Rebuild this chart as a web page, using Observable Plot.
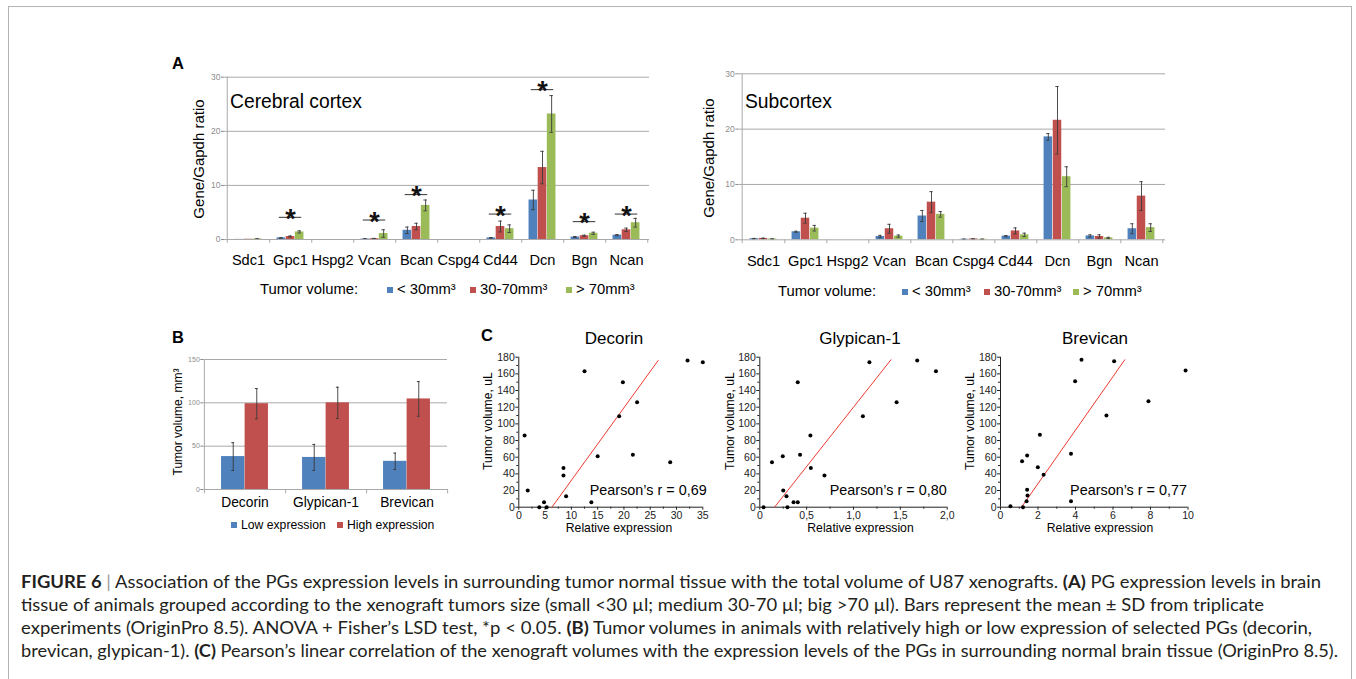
<!DOCTYPE html>
<html><head><meta charset="utf-8">
<script src="https://cdn.jsdelivr.net/npm/d3@7"></script>
<script src="https://cdn.jsdelivr.net/npm/@observablehq/plot@0.6"></script>
<style>
html,body{margin:0;padding:0;background:#fff;}
#fig{position:relative;width:1356px;height:679px;overflow:hidden;font-family:"Liberation Sans",Arial,Helvetica,sans-serif;color:#000;}
.abs{position:absolute;white-space:nowrap;line-height:1;}
#frame{position:absolute;left:8px;top:6px;width:1344px;height:720px;border:1.5px solid #b4b4b4;box-sizing:border-box;}
.cap{font-family:Lato,Roboto,"Liberation Sans",Arial,sans-serif;font-weight:400;color:#231f20;transform-origin:0 50%;}
.cap b{font-weight:700;}
.sw{display:inline-block;width:6px;height:6px;margin-right:4px;vertical-align:1px;}
</style></head>
<body><div id="fig"><div id="frame"></div></div>
<script>
// ---------- DATA ----------
const genes = ["Sdc1","Gpc1","Hspg2","Vcan","Bcan","Cspg4","Cd44","Dcn","Bgn","Ncan"];
const volumeGroups = ["< 30mm³","30-70mm³","> 70mm³"];
const groupColors = ["#4f81bd","#c0504d","#9bbb59"];
const geneAxisTicks = [0,10,20,30];

// Cerebral cortex (mean, SD)
const cortexSmall    = [0.02,0.3,0,0.1,1.7,0,0.3,7.3,0.45,0.8];
const cortexSmallSD  = [0,0.05,0,0.05,0.6,0,0.05,1.8,0.1,0.1];
const cortexMedium   = [0.05,0.55,0,0.15,2.4,0,2.4,13.3,0.7,1.8];
const cortexMediumSD = [0,0.1,0,0.05,0.6,0,1.0,3.0,0.1,0.3];
const cortexLarge    = [0.1,1.4,0,1.1,6.3,0,2.0,23.2,1.15,3.1];
const cortexLargeSD  = [0.05,0.2,0,0.7,1.0,0,0.7,3.4,0.2,0.8];
const cortexSigGenes = ["Gpc1","Vcan","Bcan","Cd44","Dcn","Bgn","Ncan"];
const cortexSigLevel = [4.1,3.6,8.3,4.7,27.7,3.3,4.7];

// Subcortex (mean, SD)
const subSmall    = [0.2,1.45,0,0.6,4.3,0.1,0.66,18.6,0.7,2.0];
const subSmallSD  = [0.05,0.1,0,0.2,1.0,0.02,0.1,0.6,0.2,0.9];
const subMedium   = [0.25,3.9,0,2.0,6.8,0.15,1.6,21.6,0.6,7.9];
const subMediumSD = [0.05,0.9,0,0.8,1.9,0.03,0.55,6.1,0.3,2.6];
const subLarge    = [0.15,2.1,0,0.66,4.6,0.1,0.9,11.4,0.35,2.2];
const subLargeSD  = [0.03,0.5,0,0.2,0.5,0.02,0.3,1.8,0.1,0.7];

// Panel B
const bCategories = ["Decorin","Glypican-1","Brevican"];
const bGroups = ["Low expression","High expression"];
const bColors = ["#4f81bd","#c0504d"];
const lowMean  = [38,37,32.5];
const lowSD    = [16,15,9.5];
const highMean = [99,100,104.5];
const highSD   = [17.5,18,20];
const bAxisTicks = [0,50,100,150];

// Panel C
const volTicks = [0,20,40,60,80,100,120,140,160,180];
const decorinExpr = [1.1,1.7,3.9,4.8,5.3,8.5,8.5,9.0,12.5,13.8,15.0,19.1,19.8,21.7,22.5,28.8,32.1,35.0];
const decorinVol  = [86,20,0,6,0,47,38,13,163,6,61,109,150,63,126,54,176,174];
const decorinFitX = [6.3,26.5];
const decorinFitY = [0,176];
const decorinTicks = [0,5,10,15,20,25,30,35];
const glypicanExpr = [0.04,0.13,0.245,0.25,0.285,0.295,0.36,0.405,0.405,0.43,0.54,0.545,0.69,1.10,1.17,1.46,1.68,1.88];
const glypicanVol  = [0,54,61,20,13,0,6,6,150,63,86,47,38,109,174,126,176,163];
const glypicanFitX = [0.157,1.40];
const glypicanFitY = [0,177];
const glypicanTicks = [0,0.5,1.0,1.5,2.0];
const brevicanExpr = [0.53,1.15,1.2,1.42,1.42,1.44,1.39,1.99,2.1,2.3,3.76,3.76,3.98,4.32,5.65,6.06,7.89,9.87];
const brevicanVol  = [1,55,0,62,21,14,7,48,87,39,64,7,151,177,110,175,127,164];
const brevicanFitX = [1.12,6.63];
const brevicanFitY = [0,177];
const brevicanTicks = [0,2,4,6,8,10];
const pearson = ["Pearson’s r = 0,69","Pearson’s r = 0,80","Pearson’s r = 0,77"];

const captionLines = [
  '<b>FIGURE 6</b> <span style="color:#9a9a9a">|</span> Association of the PGs expression levels in surrounding tumor normal tissue with the total volume of U87 xenografts. <b>(A)</b> PG expression levels in brain',
  'tissue of animals grouped according to the xenograft tumors size (small &lt;30 µl; medium 30-70 µl; big &gt;70 µl). Bars represent the mean ± SD from triplicate',
  'experiments (OriginPro 8.5). ANOVA + Fisher’s LSD test, *p &lt; 0.05. <b>(B)</b> Tumor volumes in animals with relatively high or low expression of selected PGs (decorin,',
  'brevican, glypican-1). <b>(C)</b> Pearson’s linear correlation of the xenograft volumes with the expression levels of the PGs in surrounding normal brain tissue (OriginPro 8.5).'
];

// ---------- HELPERS ----------
const FONT = '"Liberation Sans", Arial, Helvetica, sans-serif';
const fig = document.getElementById("fig");
const baseStyle = {background: "transparent", fontFamily: FONT, overflow: "visible", color: "#000"};
function place(node, left, top) {
  const d = document.createElement("div");
  d.style.cssText = `position:absolute;left:${left}px;top:${top}px;`;
  d.appendChild(node); fig.appendChild(d); return d;
}
function label(html, x, cy, fs, {anchor = "start", weight = "normal", color = "#000", rotate = false, cls = ""} = {}) {
  const d = document.createElement("div");
  d.className = "abs " + cls;
  d.innerHTML = html;
  d.style.fontSize = fs + "px";
  if (!cls) { d.style.fontWeight = weight; d.style.color = color; }
  d.style.left = x + "px";
  if (rotate) { d.style.top = cy + "px"; d.style.transform = "translate(-50%,-50%) rotate(-90deg)"; }
  else {
    d.style.top = (cy - fs / 2) + "px";
    if (anchor === "middle") d.style.transform = "translateX(-50%)";
    if (anchor === "end") d.style.transform = "translateX(-100%)";
  }
  fig.appendChild(d); return d;
}
function swatchLegend(items, colors, xs, cy, fs) {
  items.forEach((t, i) => label(`<span class="sw" style="background:${colors[i]}"></span>${t}`, xs[i], cy, fs));
}

// ---------- PANEL A ----------
function groupedBars({left, top, width, height, mL, mR, mT, mB, means, sds, sigGenes, sigLevels}) {
  const bw = (width - mL - mR) / genes.length;
  const barW = bw * 0.215;
  const g0 = (bw - 3 * barW) / 2;
  const grey = "#a9a9a9", err = "#3a3a3a";
  const marks = [Plot.ruleY([10, 20, 30], {stroke: grey})];
  means.forEach((vals, s) => {
    const rows = genes.map((g, i) => ({gene: g, v: vals[i], sd: sds[s][i]}));
    const a = g0 + s * barW, c = a + barW / 2;
    marks.push(Plot.barY(rows, {x: "gene", y: "v", fill: groupColors[s], insetLeft: a, insetRight: bw - a - barW}));
    const er = rows.filter(d => d.sd > 0);
    marks.push(Plot.ruleX(er, {x: "gene", y1: d => Math.max(0, d.v - d.sd), y2: d => d.v + d.sd, dx: c - bw / 2, stroke: err, strokeWidth: 0.9}));
    marks.push(Plot.tickY(er, {x: "gene", y: d => d.v + d.sd, insetLeft: c - 2, insetRight: bw - c - 2, stroke: err, strokeWidth: 0.9}));
    marks.push(Plot.tickY(er, {x: "gene", y: d => Math.max(0, d.v - d.sd), insetLeft: c - 2, insetRight: bw - c - 2, stroke: err, strokeWidth: 0.9}));
  });
  marks.push(Plot.ruleY([0], {stroke: grey}));
  marks.push(Plot.ruleX([genes[0]], {y1: -0.7, y2: 30, dx: -bw / 2, stroke: grey}));
  marks.push(Plot.ruleX(genes, {y1: -0.7, y2: 0, dx: bw / 2, stroke: grey}));
  if (sigGenes) {
    const sig = sigGenes.map((g, i) => ({gene: g, level: sigLevels[i]}));
    const li = (bw - 23) / 2;
    marks.push(Plot.tickY(sig, {x: "gene", y: "level", insetLeft: li, insetRight: li, stroke: "#333", strokeWidth: 1}));
    marks.push(Plot.text(sig, {x: "gene", y: "level", text: () => "*", fontSize: 27, fontWeight: "bold", dy: 2, fill: "#111"}));
  }
  marks.push(Plot.axisY({ticks: geneAxisTicks, tickSize: 3, tickPadding: 1, fontSize: 8.5, color: "#8c8c8c", label: null}));
  marks.push(Plot.axisX({tickSize: 0, tickPadding: 15.5, fontSize: 14.6, color: "#000", label: null}));
  const p = Plot.plot({width, height, marginLeft: mL, marginRight: mR, marginTop: mT, marginBottom: mB,
    x: {type: "band", domain: genes, padding: 0}, y: {domain: [0, 30]}, style: baseStyle, marks});
  place(p, left, top);
}
groupedBars({left: 170, top: 60, width: 500, height: 215, mL: 54, mR: 21, mT: 16.7, mB: 36,
  means: [cortexSmall, cortexMedium, cortexLarge], sds: [cortexSmallSD, cortexMediumSD, cortexLargeSD],
  sigGenes: cortexSigGenes, sigLevels: cortexSigLevel});
groupedBars({left: 690, top: 60, width: 500, height: 215, mL: 48.3, mR: 25, mT: 13.3, mB: 35.7,
  means: [subSmall, subMedium, subLarge], sds: [subSmallSD, subMediumSD, subLargeSD]});

label("A", 172, 63, 16.5, {weight: "bold"});
label("Cerebral cortex", 230, 101.7, 19.3);
label("Subcortex", 745, 101.7, 19.3);
label("Gene/Gapdh ratio", 198.3, 158.5, 15, {rotate: true});
label("Gene/Gapdh ratio", 708.3, 158, 15, {rotate: true});
label("Tumor volume:", 260, 289, 14.8);
swatchLegend(volumeGroups, groupColors, [387, 470, 566], 289.5, 14.8);
label("Tumor volume:", 778, 291.7, 14.8);
swatchLegend(volumeGroups, groupColors, [902, 984, 1073], 291.7, 14.8);

// ---------- PANEL B ----------
(function panelB() {
  const left = 160, top = 345, width = 290, height = 170, mL = 43.3, mR = 3, mT = 14, mB = 26;
  const bw = (width - mL - mR) / bCategories.length;
  const barW = bw * 0.29;
  const g0 = (bw - 2 * barW) / 2;
  const grey = "#a9a9a9", err = "#3a3a3a";
  const marks = [Plot.ruleY([50, 100, 150], {stroke: grey})];
  [[lowMean, lowSD], [highMean, highSD]].forEach(([m, sd], s) => {
    const rows = bCategories.map((c, i) => ({cat: c, v: m[i], sd: sd[i]}));
    const a = g0 + s * barW, c = a + barW / 2;
    marks.push(Plot.barY(rows, {x: "cat", y: "v", fill: bColors[s], insetLeft: a, insetRight: bw - a - barW}));
    marks.push(Plot.ruleX(rows, {x: "cat", y1: d => d.v - d.sd, y2: d => d.v + d.sd, dx: c - bw / 2, stroke: err, strokeWidth: 0.9}));
    marks.push(Plot.tickY(rows, {x: "cat", y: d => d.v + d.sd, insetLeft: c - 1.5, insetRight: bw - c - 1.5, stroke: err}));
    marks.push(Plot.tickY(rows, {x: "cat", y: d => d.v - d.sd, insetLeft: c - 1.5, insetRight: bw - c - 1.5, stroke: err}));
  });
  marks.push(Plot.ruleY([0], {stroke: grey}));
  marks.push(Plot.ruleX([bCategories[0]], {y1: -5, y2: 150, dx: -bw / 2, stroke: grey}));
  marks.push(Plot.ruleX(bCategories, {y1: -5, y2: 0, dx: bw / 2, stroke: grey}));
  marks.push(Plot.axisY({ticks: bAxisTicks, tickSize: 3, tickPadding: 1, fontSize: 7, color: "#8c8c8c", label: null}));
  marks.push(Plot.axisX({tickSize: 0, tickPadding: 7.5, fontSize: 13.8, color: "#000", label: null}));
  const p = Plot.plot({width, height, marginLeft: mL, marginRight: mR, marginTop: mT, marginBottom: mB,
    x: {type: "band", domain: bCategories, padding: 0}, y: {domain: [0, 150]}, style: baseStyle, marks});
  place(p, left, top);
})();
label("B", 172, 337.5, 16.5, {weight: "bold"});
label("Tumor volume, mm³", 178.3, 421.5, 12, {rotate: true});
swatchLegend(bGroups, bColors, [231, 337], 525, 12.2);

// ---------- PANEL C ----------
function scatter({left, width, mL, mR, xs, ys, fitX, fitY, xTicks, xFmt}) {
  const top = 350, height = 190, mT = 6.7, mB = 33.3;
  const pts = xs.map((x, i) => ({x, y: ys[i]}));
  const fit = fitX.map((x, i) => ({x, y: fitY[i]}));
  const xMinor = xTicks.slice(1).map((t, i) => (t + xTicks[i]) / 2);
  const yMinor = volTicks.slice(1).map((t, i) => (t + volTicks[i]) / 2);
  const ax = "#222";
  const p = Plot.plot({width, height, marginLeft: mL, marginRight: mR, marginTop: mT, marginBottom: mB,
    x: {domain: [0, xTicks[xTicks.length - 1]]}, y: {domain: [0, 180]}, style: baseStyle,
    marks: [
      Plot.axisY({ticks: volTicks, tickSize: 3, tickPadding: 1, fontSize: 10.5, color: ax, label: null}),
      Plot.axisY({ticks: yMinor, tickSize: 2, tickFormat: () => "", color: ax, label: null}),
      Plot.axisX({ticks: xTicks, tickSize: 3, tickPadding: 1.5, tickFormat: xFmt, fontSize: 10.5, color: ax, label: null}),
      Plot.axisX({ticks: xMinor, tickSize: 2, tickFormat: () => "", color: ax, label: null}),
      Plot.ruleX([0], {stroke: ax}),
      Plot.ruleY([0], {stroke: ax}),
      Plot.line(fit, {x: "x", y: "y", stroke: "#ee3b33", strokeWidth: 1}),
      Plot.dot(pts, {x: "x", y: "y", r: 2, fill: "#000"})
    ]});
  place(p, left, top);
}
const intFmt = d => String(d);
const commaFmt = d => d === 0 ? "0" : d.toFixed(1).replace(".", ",");
scatter({left: 460, width: 250, mL: 58.3, mR: 7.7, xs: decorinExpr, ys: decorinVol, fitX: decorinFitX, fitY: decorinFitY, xTicks: decorinTicks, xFmt: intFmt});
scatter({left: 720, width: 235, mL: 39.3, mR: 8.3, xs: glypicanExpr, ys: glypicanVol, fitX: glypicanFitX, fitY: glypicanFitY, xTicks: glypicanTicks, xFmt: commaFmt});
scatter({left: 940, width: 255, mL: 60, mR: 7.5, xs: brevicanExpr, ys: brevicanVol, fitX: brevicanFitX, fitY: brevicanFitY, xTicks: brevicanTicks, xFmt: intFmt});

label("C", 481, 335.5, 16.5, {weight: "bold"});
[["Decorin", 614], ["Glypican-1", 860], ["Brevican", 1095]].forEach(([t, x]) => label(t, x, 338.5, 17, {anchor: "middle"}));
[488.3, 730, 970].forEach(x => label("Tumor volume, uL", x, 421, 12.2, {rotate: true}));
[619, 860.5, 1100].forEach(x => label("Relative expression", x, 528.3, 12.2, {anchor: "middle"}));
[706.7, 946.7, 1187].forEach((x, i) => label(pearson[i], x, 490, 14.4, {anchor: "end"}));

// ---------- CAPTION ----------
const capRight = [1321, 1264, 1312, 1338];
captionLines.forEach((html, i) => {
  const d = label(html, 21, 582 + 23 * i, 16.5, {cls: "cap"});
  const w = d.getBoundingClientRect().width;
  d.style.transform = `scaleX(${(capRight[i] - 21) / w})`;
});
</script></body></html>
